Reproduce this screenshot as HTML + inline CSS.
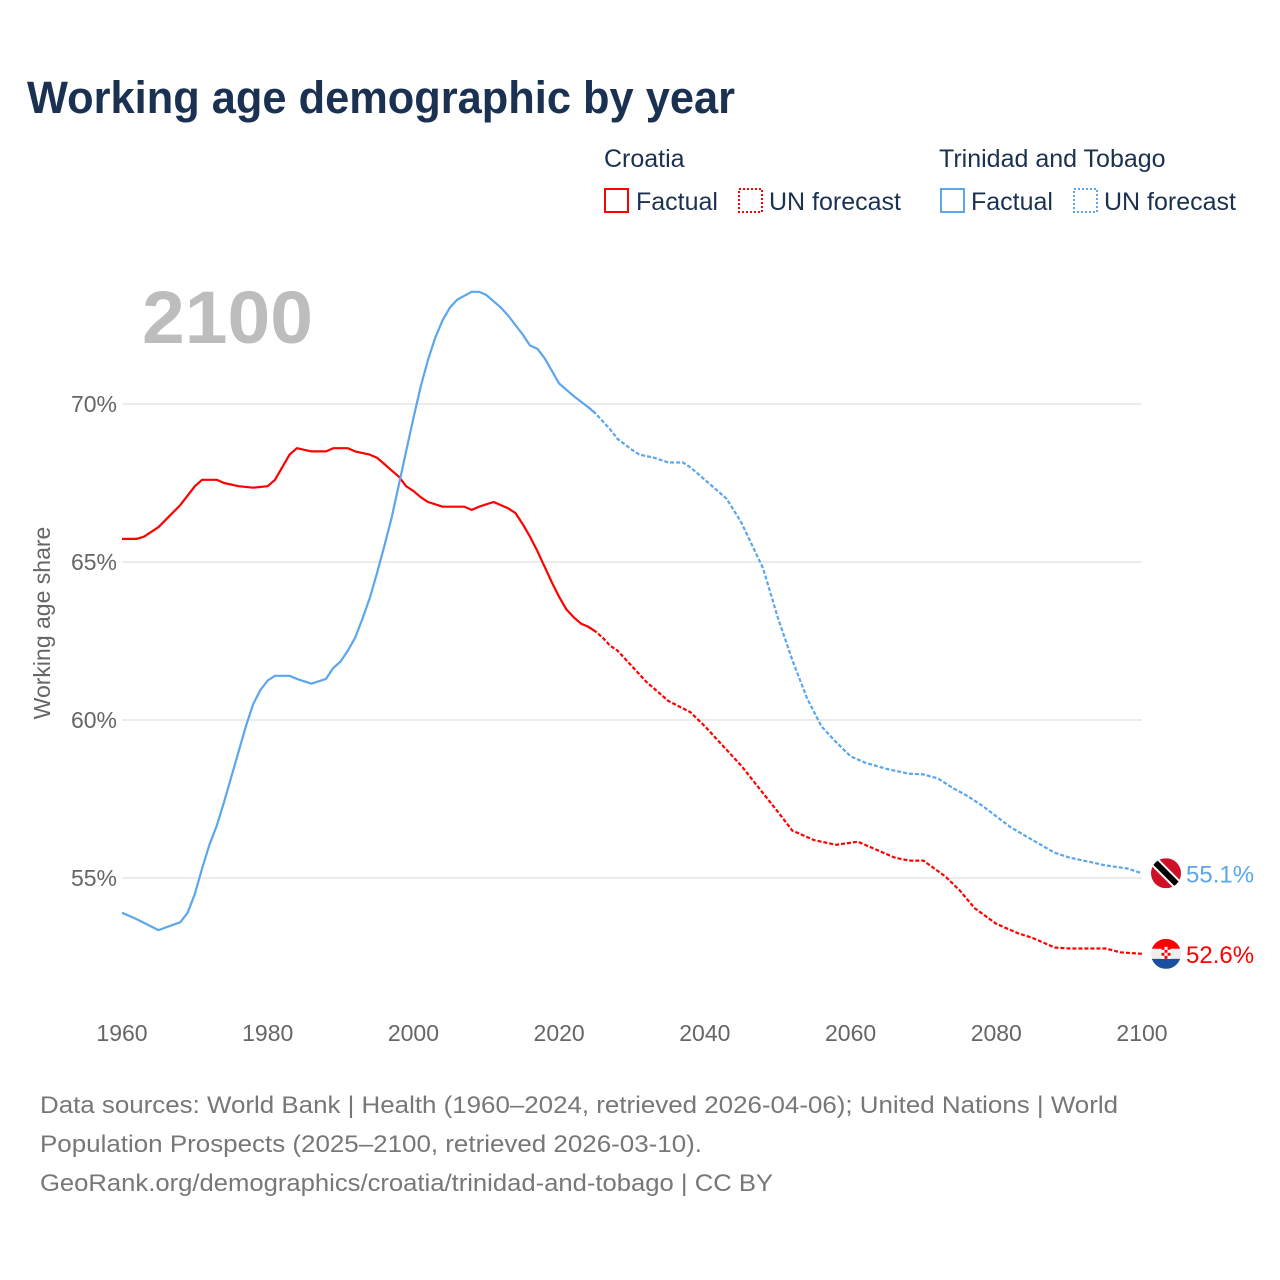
<!DOCTYPE html>
<html><head><meta charset="utf-8"><style>
body{margin:0;background:#fff;font-family:"Liberation Sans",sans-serif;}
#wrap{position:relative;width:1280px;height:1280px;overflow:hidden;}
</style></head><body>
<div id="wrap">
<svg id="chart" width="1280" height="1280" xmlns="http://www.w3.org/2000/svg">
<text x="27" y="113" font-size="45" font-weight="bold" fill="#1a3152" textLength="708" lengthAdjust="spacingAndGlyphs">Working age demographic by year</text>
<g font-size="25" fill="#1a3152">
<text x="604" y="167">Croatia</text>
<text x="939" y="167">Trinidad and Tobago</text>
<g><rect x="605" y="189" width="23" height="23" fill="none" stroke="#f00" stroke-width="2"/><text x="636" y="210">Factual</text></g>
<g><rect x="739" y="189" width="23" height="23" fill="none" stroke="#f00" stroke-width="2" stroke-dasharray="2,2"/><text x="769" y="210">UN forecast</text></g>
<g><rect x="941" y="189" width="23" height="23" fill="none" stroke="#5ba6ec" stroke-width="2"/><text x="971" y="210">Factual</text></g>
<g><rect x="1074" y="189" width="23" height="23" fill="none" stroke="#5ba6ec" stroke-width="2" stroke-dasharray="2,2"/><text x="1104" y="210">UN forecast</text></g>
</g>
<text x="142" y="343" font-size="74" font-weight="bold" fill="#bdbdbd" textLength="171" lengthAdjust="spacingAndGlyphs">2100</text>
<g id="grid"></g>
<g id="yticks" font-size="23" fill="#666"></g>
<g id="xticks" font-size="23" fill="#666"></g>
<text transform="translate(50,623) rotate(-90)" text-anchor="middle" font-size="23" fill="#666">Working age share</text>
<g id="series"></g>
<g font-size="24" fill="#777">
<text x="40" y="1113" textLength="1078" lengthAdjust="spacingAndGlyphs">Data sources: World Bank | Health (1960–2024, retrieved 2026-04-06); United Nations | World</text>
<text x="40" y="1152" textLength="662" lengthAdjust="spacingAndGlyphs">Population Prospects (2025–2100, retrieved 2026-03-10).</text>
<text x="40" y="1191" textLength="733" lengthAdjust="spacingAndGlyphs">GeoRank.org/demographics/croatia/trinidad-and-tobago | CC BY</text>
</g>
</svg>
</div>
<script>
const yTicks=[55,60,65,70];
const xTicks=[1960,1980,2000,2020,2040,2060,2080,2100];
const hrYears=[1960,1962,1963,1965,1968,1970,1971,1973,1974,1976,1978,1980,1981,1982,1983,1984,1986,1988,1989,1991,1992,1994,1995,1996,1997,1998,1999,2000,2001,2002,2004,2007,2008,2009,2011,2012,2013,2014,2015,2016,2017,2018,2019,2020,2021,2022,2023,2024,2025,2026,2027,2028,2030,2032,2035,2038,2040,2045,2050,2052,2055,2058,2061,2063,2066,2068,2070,2073,2075,2077,2080,2083,2085,2088,2090,2095,2097,2100];
const hrValues=[65.73,65.73,65.8,66.1,66.8,67.4,67.6,67.6,67.5,67.4,67.35,67.4,67.6,68.0,68.4,68.6,68.5,68.5,68.6,68.6,68.5,68.4,68.3,68.1,67.9,67.7,67.4,67.25,67.05,66.9,66.75,66.75,66.65,66.75,66.9,66.8,66.7,66.55,66.2,65.8,65.35,64.85,64.35,63.9,63.5,63.25,63.05,62.95,62.8,62.6,62.35,62.2,61.7,61.2,60.6,60.25,59.8,58.55,57.1,56.5,56.2,56.05,56.15,55.95,55.65,55.55,55.55,55.05,54.6,54.05,53.55,53.25,53.1,52.8,52.77,52.77,52.65,52.6];
const ttYears=[1960,1961,1962,1965,1968,1969,1970,1971,1972,1973,1974,1975,1976,1977,1978,1979,1980,1981,1983,1984,1986,1988,1989,1990,1991,1992,1993,1994,1995,1996,1997,1998,1999,2000,2001,2002,2003,2004,2005,2006,2008,2009,2010,2011,2012,2013,2014,2015,2016,2017,2018,2019,2020,2022,2024,2025,2027,2028,2030,2031,2033,2035,2037,2038,2040,2043,2045,2048,2050,2052,2054,2056,2058,2060,2062,2065,2068,2070,2072,2074,2076,2078,2080,2082,2085,2088,2090,2093,2095,2098,2100];
const ttValues=[53.9,53.8,53.7,53.35,53.6,53.9,54.5,55.3,56.05,56.65,57.4,58.2,59.0,59.8,60.5,60.95,61.25,61.4,61.4,61.3,61.15,61.3,61.65,61.85,62.2,62.6,63.2,63.85,64.65,65.5,66.4,67.45,68.5,69.55,70.55,71.4,72.1,72.65,73.05,73.3,73.55,73.55,73.45,73.25,73.05,72.8,72.5,72.2,71.85,71.75,71.45,71.05,70.65,70.25,69.9,69.7,69.2,68.9,68.55,68.4,68.3,68.15,68.15,68.0,67.6,67.0,66.25,64.8,63.25,61.9,60.7,59.8,59.3,58.85,58.65,58.45,58.3,58.28,58.15,57.85,57.6,57.3,56.95,56.6,56.2,55.8,55.65,55.5,55.4,55.3,55.15];
const hrLabel="52.6%", ttLabel="55.1%";
const NS="http://www.w3.org/2000/svg";
const xS=y=>122+(y-1960)*(1020/140);
const yS=v=>404+(70-v)*31.6;
function mk(tag,attrs,parent){const e=document.createElementNS(NS,tag);for(const k in attrs)e.setAttribute(k,attrs[k]);parent.appendChild(e);return e;}
const grid=document.getElementById('grid'),yt=document.getElementById('yticks'),xt=document.getElementById('xticks'),ser=document.getElementById('series');
yTicks.forEach(v=>{
 const l=mk('line',{x1:122,x2:1142,y1:yS(v),y2:yS(v),stroke:'#e6e6e6','stroke-width':1.5},grid);
 
 
 const t=mk('text',{x:117,y:yS(v)+8,'text-anchor':'end'},yt);t.textContent=v+'%';
 
 
});
xTicks.forEach(y=>{
 const t=mk('text',{x:xS(y),y:1041,'text-anchor':'middle'},xt);t.textContent=y;
 
 
});
function pathFor(years,vals,from,to){let d='';years.forEach((y,i)=>{if(y>=from&&y<=to)d+=(d?'L':'M')+xS(y).toFixed(1)+','+yS(vals[i]).toFixed(1);});return d;}
function draw(years,vals,color,name){
 const a=mk('path',{d:pathFor(years,vals,1960,2025),fill:'none',stroke:color,'stroke-width':2.2,'stroke-linejoin':'round'},ser);
 
 
 const b=mk('path',{d:pathFor(years,vals,2024,2100),fill:'none',stroke:color,'stroke-width':2.2,'stroke-dasharray':'4,2'},ser);
 
 
}
draw(hrYears,hrValues,'#ff0000','croatia');
draw(ttYears,ttValues,'#5ba6ec','trinidad');
const hy=yS(hrValues[hrValues.length-1]), ty=yS(ttValues[ttValues.length-1]);
const cx=1166;
let g=mk('g',{},ser);


const cp1=mk('clipPath',{id:'c1'},g);mk('circle',{cx:cx,cy:ty,r:15},cp1);
const gt=mk('g',{'clip-path':'url(#c1)'},g);
mk('rect',{x:cx-15,y:ty-15,width:30,height:30,fill:'#ce1126'},gt);
mk('line',{x1:cx-15,y1:ty-15,x2:cx+15,y2:ty+15,stroke:'#fff','stroke-width':10},gt);
mk('line',{x1:cx-15,y1:ty-15,x2:cx+15,y2:ty+15,stroke:'#000','stroke-width':6},gt);
g=mk('g',{},ser);


const cp=mk('clipPath',{id:'c2'},g);mk('circle',{cx:cx,cy:hy,r:15},cp);
const gh=mk('g',{'clip-path':'url(#c2)'},g);
mk('rect',{x:cx-15,y:hy-15,width:30,height:10,fill:'#ff0000'},gh);
mk('rect',{x:cx-15,y:hy-5,width:30,height:10,fill:'#eee'},gh);
mk('rect',{x:cx-15,y:hy+5,width:30,height:10,fill:'#1a4fa0'},gh);
for(let r=0;r<4;r++)for(let c=0;c<3;c++){mk('rect',{x:cx-4.5+c*3,y:hy-7+r*3,width:3,height:3,fill:(r+c)%2?'#fff':'#ff0000'},gh);}
let t=mk('text',{x:1186,y:ty+9,'font-size':24,fill:'#5ba6ec'},ser);t.textContent=ttLabel;


t=mk('text',{x:1186,y:hy+9,'font-size':24,fill:'#ff0000'},ser);t.textContent=hrLabel;


</script>
</body></html>
